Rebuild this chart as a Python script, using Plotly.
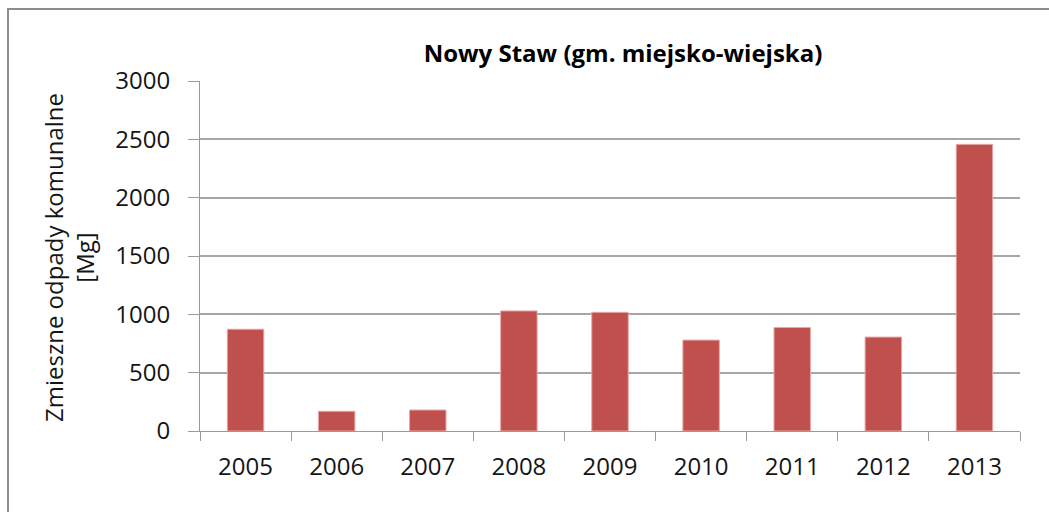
import plotly.graph_objects as go

years = ["2005", "2006", "2007", "2008", "2009", "2010", "2011", "2012", "2013"]
waste_mg = [872, 169, 180, 1029, 1017, 779, 887, 805, 2457]

font_family = "'Open Sans', sans-serif"

# plot area geometry in pixels
W, H = 1049, 512
ML, MR, MT, MB = 200, 29, 81, 81
PW, PH = W - ML - MR, H - MT - MB

fig = go.Figure(
    go.Bar(
        x=years,
        y=waste_mg,
        marker=dict(color="#C0504D", line=dict(color="#E6A6A4", width=1)),
        hoverinfo="x+y",
    )
)

fig.update_layout(
    width=W,
    height=H,
    paper_bgcolor="white",
    plot_bgcolor="white",
    margin=dict(l=ML, r=MR, t=MT, b=MB),
    bargap=0.6,
    showlegend=False,
    title=dict(
        text="<b>Nowy Staw (gm. miejsko-wiejska)</b>",
        x=623 / W,
        xanchor="center",
        y=1 - 54 / H,
        yanchor="middle",
        font=dict(family=font_family, size=24, color="black"),
    ),
    font=dict(family=font_family, color="#151515"),
)

fig.update_xaxes(
    type="category",
    showline=True,
    linecolor="#9a9a9a",
    linewidth=1,
    ticks="outside",
    tickson="boundaries",
    ticklen=9,
    tickcolor="#9a9a9a",
    ticklabelstandoff=14,
    tickfont=dict(size=24, family=font_family, color="#151515"),
    showgrid=False,
)

fig.update_yaxes(
    range=[0, 3000],
    tickvals=[0, 500, 1000, 1500, 2000, 2500, 3000],
    showline=True,
    linecolor="#9a9a9a",
    linewidth=1,
    ticks="outside",
    ticklen=11,
    tickcolor="#9a9a9a",
    ticklabelstandoff=13,
    tickfont=dict(size=24, family=font_family, color="#151515"),
    showgrid=True,
    gridcolor="#a6a6a6",
    gridwidth=1.5,
    zeroline=False,
)

# y-axis title
fig.add_annotation(
    text="Zmieszne odpady komunalne<br>[Mg]",
    textangle=-90,
    xref="paper",
    yref="paper",
    x=(69 - ML) / PW,
    y=(H - MB - 258) / PH,
    xanchor="center",
    yanchor="middle",
    showarrow=False,
    font=dict(size=24, family=font_family, color="#151515"),
)

# outer chart frame
fig.add_shape(
    type="rect",
    xref="paper",
    yref="paper",
    x0=(8 - ML) / PW,
    x1=1.2,
    y0=-0.5,
    y1=1 + (MT - 9) / PH,
    line=dict(color="#8c8c8c", width=2),
    fillcolor="rgba(0,0,0,0)",
    layer="below",
)

fig.write_html("out.html")
